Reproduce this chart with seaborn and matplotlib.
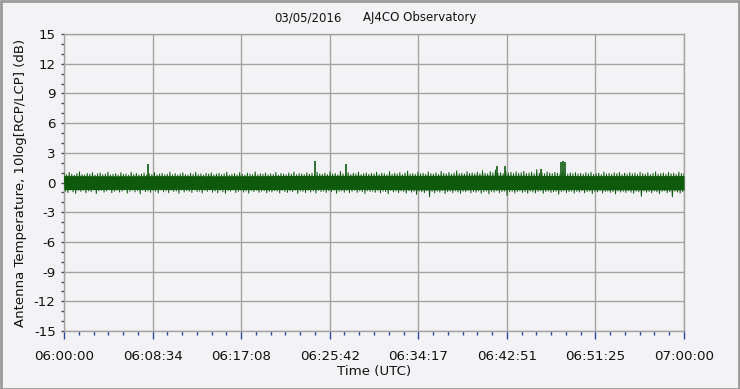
import numpy as np
import pandas as pd
import matplotlib
matplotlib.use("Agg")
import matplotlib.pyplot as plt
from matplotlib.ticker import FixedLocator, MultipleLocator
import seaborn as sns

# ---------------- data ----------------
title_date = "03/05/2016"
title_site = "AJ4CO Observatory"
x_label = "Time (UTC)"
y_label = "Antenna Temperature, 10log[RCP/LCP] (dB)"
x_tick_labels = ["06:00:00", "06:08:34", "06:17:08", "06:25:42",
                 "06:34:17", "06:42:51", "06:51:25", "07:00:00"]
y_ticks = [-15, -12, -9, -6, -3, 0, 3, 6, 9, 12, 15]

# noise peaks (dB), one pair every 0.25 minute after 06:00:00
peak_hi = [
    0.95, 0.78, 1.02, 0.85, 0.74, 0.90, 1.08, 0.80, 0.76, 0.92, 0.84, 1.00, 0.75, 0.88, 0.97, 0.79, 0.86, 1.05, 0.77, 0.83,
    0.90, 0.76, 0.99, 0.82, 0.87, 0.74, 1.04, 0.81, 0.93, 0.78, 0.85, 0.96, 0.75, 0.89, 0.80, 1.01, 0.77, 0.86, 0.92, 0.79,
    0.84, 1.06, 0.78, 0.91, 0.75, 0.87, 0.98, 0.80, 0.76, 0.94, 0.83, 1.03, 0.79, 0.88, 0.74, 0.92, 0.85, 0.99, 0.77, 0.86,
    0.93, 0.79, 0.87, 1.05, 0.76, 0.84, 0.90, 0.78, 1.00, 0.82, 0.75, 0.95, 0.86, 0.80, 1.07, 0.77, 0.89, 0.83, 0.96, 0.78,
    0.88, 0.81, 1.02, 0.76, 0.92, 0.85, 0.79, 0.97, 0.83, 1.06, 0.78, 0.90, 0.86, 0.80, 0.99, 0.84, 0.93, 0.79, 1.04, 0.87,
    0.82, 0.95, 0.80, 1.08, 0.86, 0.91, 0.78, 1.12, 0.88, 0.84, 1.00, 0.81, 0.94, 0.87, 1.05, 0.80, 0.90, 0.97, 0.83, 0.92,
    0.86, 1.03, 0.81, 0.95, 0.89, 0.78, 1.10, 0.84, 0.93, 0.87, 1.01, 0.80, 0.96, 1.15, 0.85, 0.90, 0.82, 1.04, 0.88, 0.94,
    0.83, 1.07, 0.90, 0.86, 0.98, 0.81, 1.12, 0.92, 0.87, 1.02, 0.84, 0.95, 1.18, 0.89, 0.93, 0.85, 1.09, 0.91, 0.97, 0.88,
    1.05, 0.90, 1.20, 0.94, 0.88, 1.10, 0.97, 1.25, 0.92, 1.00, 0.89, 1.15, 0.95, 1.03, 0.90, 1.08, 0.93, 0.98, 1.12, 0.91,
    0.96, 1.05, 0.89, 1.30, 0.94, 1.00, 0.88, 1.08, 0.95, 0.90, 1.02, 0.93, 0.87, 1.04, 0.91, 0.85, 0.97, 0.89, 1.00, 0.86,
    0.92, 0.84, 0.99, 0.88, 1.03, 0.82, 0.90, 0.95, 0.80, 1.06, 0.87, 0.93, 0.83, 0.98, 0.89, 1.02, 0.81, 0.94, 0.86, 1.00,
    0.88, 0.96, 0.82, 1.04, 0.90, 0.85, 0.99, 0.80, 0.93, 1.07, 0.84, 0.91, 0.97, 0.83, 1.02, 0.88, 0.95, 0.81, 1.05, 0.90,
    0.92]
peak_lo = [
    -0.88, -1.02, -0.76, -0.95, -1.10, -0.80, -0.90, -0.78, -1.05, -0.85, -0.93, -0.77, -1.12, -0.84, -0.79, -0.98, -0.86, -0.75, -1.04, -0.89,
    -0.81, -0.97, -0.87, -0.76, -1.08, -0.90, -0.79, -0.95, -0.83, -1.15, -0.78, -0.92, -0.86, -1.00, -0.80, -0.88, -1.06, -0.77, -0.94, -0.84,
    -1.03, -0.79, -0.91, -0.85, -1.09, -0.77, -0.96, -0.82, -0.89, -1.01, -0.76, -0.93, -0.87, -1.07, -0.80, -0.90, -0.78, -0.99, -0.86, -1.04,
    -0.80, -0.94, -1.10, -0.83, -0.88, -0.77, -1.02, -0.90, -0.79, -0.96, -0.85, -1.08, -0.81, -0.92, -0.78, -1.00, -0.87, -0.83, -1.05, -0.89,
    -0.95, -0.82, -0.88, -1.06, -0.79, -0.91, -1.00, -0.84, -0.93, -0.78, -1.11, -0.86, -0.90, -1.02, -0.81, -0.97, -0.85, -1.07, -0.80, -0.92,
    -0.87, -1.01, -0.83, -0.94, -0.80, -1.09, -0.89, -0.85, -0.98, -0.82, -1.04, -0.90, -0.79, -1.00, -0.86, -0.93, -1.12, -0.84, -0.91, -0.88,
    -0.99, -0.83, -1.05, -0.88, -0.92, -1.14, -0.81, -0.95, -0.87, -1.03, -0.85, -0.91, -1.08, -0.82, -0.97, -0.89, -1.20, -0.86, -0.94, -1.02,
    -0.84, -1.45, -0.90, -1.06, -0.87, -0.98, -0.83, -1.12, -0.92, -0.88, -1.03, -0.85, -0.96, -1.10, -0.89, -0.94, -0.82, -1.05, -0.91, -0.99,
    -0.86, -1.08, -0.93, -0.88, -1.15, -0.90, -0.97, -0.84, -1.04, -0.92, -0.87, -1.30, -0.95, -0.89, -1.06, -0.91, -0.85, -1.00, -0.93, -1.09,
    -0.88, -0.96, -1.05, -0.90, -0.84, -1.10, -0.92, -0.87, -1.01, -0.94, -0.89, -1.18, -0.91, -0.85, -1.03, -0.93, -0.88, -1.07, -0.90, -0.97,
    -0.85, -1.04, -0.92, -0.88, -1.12, -0.90, -0.95, -0.83, -1.06, -0.91, -0.87, -1.00, -0.93, -1.15, -0.86, -0.96, -0.89, -1.02, -0.84, -0.98,
    -1.09, -0.88, -0.94, -1.40, -0.86, -0.99, -0.91, -1.05, -0.87, -0.95, -1.13, -0.90, -0.84, -1.03, -0.92, -1.45, -0.88, -0.97, -1.08, -0.93,
    -1.02]
# solid core of the trace, one value every 5 minutes
core_t = [0, 5, 10, 15, 20, 25, 30, 35, 40, 45, 50, 55, 60]
core_hi = [0.70, 0.68, 0.70, 0.68, 0.70, 0.72, 0.72, 0.72, 0.74, 0.72, 0.70, 0.70, 0.70]
core_lo = [-0.72, -0.70, -0.70, -0.70, -0.72, -0.70, -0.70, -0.74, -0.72, -0.72, -0.72, -0.74, -0.74]
# isolated spikes (minutes, dB)
spike_t = [8.1, 24.3, 27.3, 41.9, 42.7, 46.2, 48.1, 48.3, 48.5]
spike_v = [1.87, 2.17, 1.87, 1.67, 1.65, 1.35, 2.05, 2.20, 2.10]

# ---------------- build table ----------------
t_hi = np.arange(len(peak_hi)) * 0.25
t_lo = t_hi + 0.125
trace = pd.DataFrame({
    "t": np.concatenate([t_hi, t_lo]),
    "v": np.concatenate([peak_hi, peak_lo]),
}).sort_values("t")
trace = trace[trace["t"] <= 60]

# ---------------- style ----------------
BG = "#f3f3f5"
GREEN = "#0d5a0d"
sns.set_theme(style="white")
plt.rcParams["font.family"] = ["DejaVu Sans"]

fig = plt.figure(figsize=(7.40, 3.89), dpi=100, facecolor=BG)
ax = fig.add_axes([64 / 740, 58 / 389, 620 / 740, 297 / 389])
ax.set_facecolor(BG)

# frame around the window
fig.patches.append(plt.Rectangle((0.001, 0.001), 0.998, 0.997, transform=fig.transFigure,
                                 fill=False, edgecolor="#9a9a9a", linewidth=2.0))

ax.fill_between(core_t, core_lo, core_hi, color=GREEN, linewidth=0, zorder=3)
sns.lineplot(data=trace, x="t", y="v", ax=ax, color=GREEN, linewidth=0.7,
             sort=True, estimator=None, zorder=4)
ax.vlines(spike_t, 0, spike_v, color=GREEN, linewidth=1.2, zorder=4)

# axes
x_major = np.linspace(0, 60, len(x_tick_labels))
ax.set_xlim(0, 60)
ax.set_ylim(-15, 15)
ax.xaxis.set_major_locator(FixedLocator(x_major))
ax.xaxis.set_minor_locator(FixedLocator(np.linspace(0, 60, 43)))
ax.set_xticklabels(x_tick_labels)
ax.yaxis.set_major_locator(FixedLocator(y_ticks))
ax.yaxis.set_minor_locator(MultipleLocator(1))
ax.set_yticklabels([str(v) for v in y_ticks])

ax.grid(True, which="major", color="#a3a3a3", linewidth=1.0, zorder=0)
ax.set_axisbelow(True)
for s in ax.spines.values():
    s.set_color("#a3a3a3")
    s.set_linewidth(1.0)

ax.tick_params(axis="x", which="major", direction="out", length=6, width=1,
               color="#2a4a9a", labelsize=9.6, pad=8, labelcolor="#111111")
ax.tick_params(axis="x", which="minor", direction="out", length=3, width=1,
               color="#2a4a9a")
ax.tick_params(axis="y", which="major", direction="out", length=2, width=1,
               color="#444444", labelsize=9.6, pad=4, labelcolor="#111111")
ax.tick_params(axis="y", which="minor", direction="out", length=2, width=1,
               color="#444444")
ax.tick_params(bottom=True, left=True, which="both")

ax.set_xlabel(x_label, fontsize=9.6, color="#111111", labelpad=1)
ax.set_ylabel(y_label, fontsize=9.5, color="#111111", labelpad=5)
fig.text(308 / 740, 1 - 18 / 389, title_date, ha="center", va="center",
         fontsize=8.5, color="#111111")
fig.text(420 / 740, 1 - 18 / 389, title_site, ha="center", va="center",
         fontsize=8.5, color="#111111")

fig.savefig("out.png", dpi=100, facecolor=BG)
